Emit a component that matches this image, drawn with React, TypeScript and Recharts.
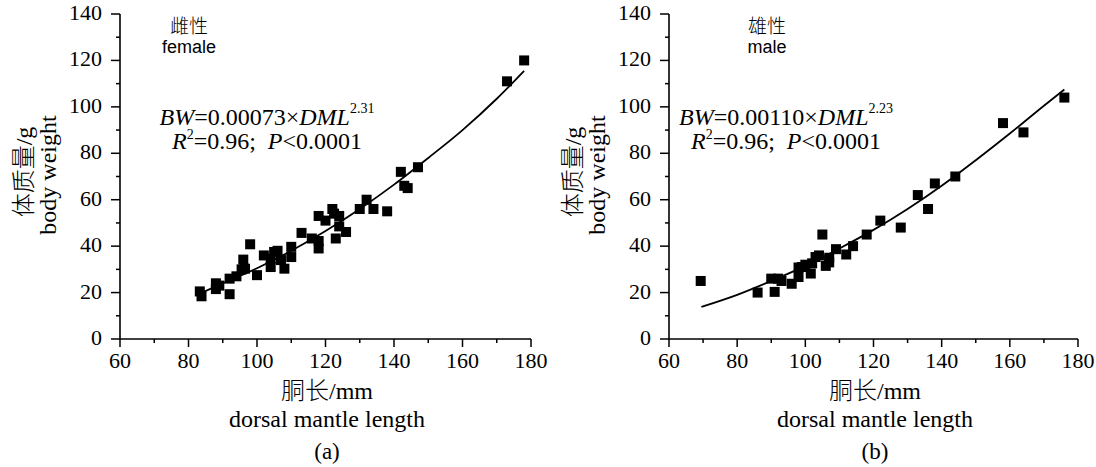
import React from 'react';
import { ScatterChart, Scatter, XAxis, YAxis } from 'recharts';

// female (a)
const femaleDML = [83.3, 83.8, 88, 88, 89, 92, 92, 94, 95.5, 96, 96.5, 98, 100, 102, 104, 104, 105, 106, 107, 108, 110, 110, 113, 116, 118, 118, 118, 120, 122, 122.5, 123, 124, 124, 126, 130, 132, 134, 138, 142, 143, 144, 147, 173, 178];
const femaleBW = [20.5, 18.4, 24, 21.5, 23, 26, 19.3, 27, 30, 34.2, 30.3, 40.8, 27.5, 36, 31, 34.6, 37.5, 38, 34, 30.3, 39.7, 35.3, 45.7, 43.3, 53, 42.2, 39, 51, 56, 54, 43.3, 48.5, 53, 46.1, 56, 60, 56, 55, 72, 66, 65, 74, 111, 120];
const femaleFitDML = [84, 90, 100, 110, 120, 130, 140, 150, 160, 170, 178];
const femaleFitBW = [20, 24, 30.5, 38, 46.5, 56, 66.5, 78, 90, 103.5, 115.5];

// male (b)
const maleDML = [69.3, 86, 90, 91, 92, 93, 96, 98, 98, 99, 100, 101.6, 102, 103, 104, 105, 106, 107, 107, 109, 112, 114, 118, 122, 128, 133, 136, 138, 144, 158, 164, 176];
const maleBW = [25, 20, 26, 20.3, 26, 25, 23.8, 30.8, 26.7, 31, 32, 28.2, 32.6, 35.3, 36, 45, 31.5, 35, 33, 38.7, 36.4, 40, 45, 51, 48, 62, 56, 67, 70, 93, 89, 104];
const maleFitDML = [69.5, 80, 90, 100, 110, 120, 130, 140, 150, 160, 170, 176];
const maleFitBW = [13.8, 19, 25, 31.5, 39, 47, 56, 66, 77, 88.5, 100.5, 107.5];

const xTicks = [60, 70, 80, 90, 100, 110, 120, 130, 140, 150, 160, 170, 180];
const yTicks = [0, 10, 20, 30, 40, 50, 60, 70, 80, 90, 100, 110, 120, 130, 140];

const SERIF = "'Liberation Serif', 'Noto Sans CJK SC', serif";
const SANS = "'Liberation Sans', 'Noto Sans CJK SC', sans-serif";

const toPoints = (xs: number[], ys: number[]) => xs.map((x, i) => ({ x, y: ys[i] }));

const renderXTick = (props: any) => {
  const { x, y, payload } = props;
  const major = payload.value % 20 === 0;
  return (
    <g key={`xt-${payload.value}`}>
      <line x1={x} y1={y} x2={x} y2={y + (major ? 8 : 4)} stroke="#000" strokeWidth={1.5} />
      {major && (
        <text x={x} y={y + 29} textAnchor="middle" fontFamily="Liberation Serif" fontSize={22} fill="#000">
          {payload.value}
        </text>
      )}
    </g>
  );
};

const renderYTick = (props: any) => {
  const { x, y, payload } = props;
  const major = payload.value % 20 === 0;
  return (
    <g key={`yt-${payload.value}`}>
      <line x1={x} y1={y} x2={x - (major ? 9 : 4)} y2={y} stroke="#000" strokeWidth={1.5} />
      {major && (
        <text x={x - 18} y={y + 6} textAnchor="end" fontFamily="Liberation Serif" fontSize={22} fill="#000">
          {payload.value}
        </text>
      )}
    </g>
  );
};

const Square = (props: any) => (
  <rect x={props.cx - 5} y={props.cy - 5} width={10} height={10} fill="#000" />
);
const NoDot = () => <g />;

const Panel = ({ pts, fit, yAxisWidth, right }: any) => (
  <ScatterChart width={548} height={467} margin={{ top: 14, right, bottom: 98, left: 0 }}>
    <XAxis
      type="number"
      dataKey="x"
      domain={[60, 180]}
      ticks={xTicks}
      interval={0}
      height={30}
      tickSize={0}
      tickMargin={0}
      tickLine={false}
      tick={renderXTick}
      axisLine={{ stroke: '#000', strokeWidth: 1.6 }}
    />
    <YAxis
      type="number"
      dataKey="y"
      domain={[0, 140]}
      ticks={yTicks}
      interval={0}
      width={yAxisWidth}
      tickSize={0}
      tickMargin={0}
      tickLine={false}
      tick={renderYTick}
      axisLine={{ stroke: '#000', strokeWidth: 1.6 }}
    />
    <Scatter data={pts} shape={Square} isAnimationActive={false} />
    <Scatter
      data={fit}
      shape={NoDot}
      line={{ stroke: '#000', strokeWidth: 1.8 }}
      lineJointType="monotoneX"
      isAnimationActive={false}
    />
  </ScatterChart>
);

const Labels = ({ ox, sex, sexEn, coef, exp, tag, xc, eqx, yt1, yt2 }: any) => (
  <g fill="#000">
    <text x={ox + yt1} y={172} transform={`rotate(-90, ${ox + yt1}, 172)`} textAnchor="middle" dominantBaseline="central" fontFamily={SERIF} fontSize={24} fontWeight={300}>
      体质量/g
    </text>
    <text x={ox + yt2} y={175} transform={`rotate(-90, ${ox + yt2}, 175)`} textAnchor="middle" dominantBaseline="central" fontFamily={SERIF} fontSize={24}>
      body weight
    </text>
    <text x={xc} y={26} textAnchor="middle" dominantBaseline="central" fontFamily={SANS} fontSize={19} fontWeight={300}>{sex}</text>
    <text x={xc} y={47} textAnchor="middle" dominantBaseline="central" fontFamily={SANS} fontSize={18}>{sexEn}</text>
    <text x={eqx} y={117} textAnchor="middle" dominantBaseline="central" fontFamily={SERIF} fontSize={24}>
      <tspan fontStyle="italic">BW</tspan>=0.{coef}×<tspan fontStyle="italic">DML</tspan>
      <tspan fontSize={14} dy={-9}>{exp}</tspan>
    </text>
    <text x={eqx} y={141} textAnchor="middle" dominantBaseline="central" fontFamily={SERIF} fontSize={24}>
      <tspan fontStyle="italic">R</tspan>
      <tspan fontSize={14} dy={-7}>2</tspan>
      <tspan dy={7}>{'=0.96;\u00a0\u00a0'}</tspan>
      <tspan fontStyle="italic">P</tspan>&lt;0.0001
    </text>
    <text x={ox + 327} y={391} textAnchor="middle" dominantBaseline="central" fontFamily={SERIF} fontSize={24} fontWeight={300}>胴长/mm</text>
    <text x={ox + 327} y={419} textAnchor="middle" dominantBaseline="central" fontFamily={SERIF} fontSize={24}>dorsal mantle length</text>
    <text x={ox + 327} y={451} textAnchor="middle" dominantBaseline="central" fontFamily={SERIF} fontSize={23}>{tag}</text>
  </g>
);

export default function App() {
  const femalePts = toPoints(femaleDML, femaleBW);
  const femaleFit = toPoints(femaleFitDML, femaleFitBW);
  const malePts = toPoints(maleDML, maleBW);
  const maleFit = toPoints(maleFitDML, maleFitBW);
  return (
    <div style={{ position: 'absolute', left: 0, top: 0, width: 1096, height: 467, background: '#fff' }}>
      <div style={{ position: 'absolute', left: 0, top: 0 }}>
        <Panel pts={femalePts} fit={femaleFit} yAxisWidth={120} right={17} />
      </div>
      <div style={{ position: 'absolute', left: 548, top: 0 }}>
        <Panel pts={malePts} fit={maleFit} yAxisWidth={121} right={18} />
      </div>
      <svg width={1096} height={467} style={{ position: 'absolute', left: 0, top: 0, pointerEvents: 'none' }}>
        <Labels ox={0} sex="雌性" sexEn="female" coef="00073" exp="2.31" tag="(a)" xc={189} eqx={267} yt1={24} yt2={48} />
        <Labels ox={548} sex="雄性" sexEn="male" coef="00110" exp="2.23" tag="(b)" xc={767} eqx={786} yt1={25} yt2={49} />
      </svg>
    </div>
  );
}
